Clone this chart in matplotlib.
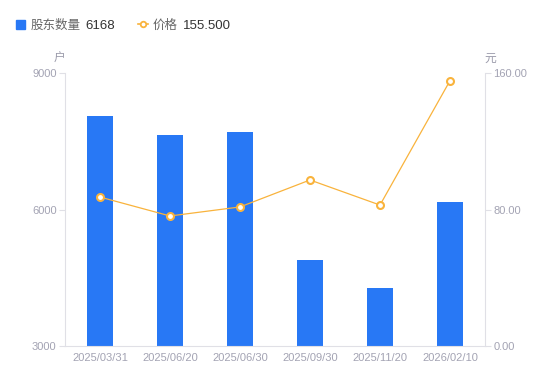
import numpy as np
import matplotlib; matplotlib.use("Agg")
import matplotlib.pyplot as plt
from matplotlib.lines import Line2D
from matplotlib.patches import Rectangle

plt.rcParams["font.family"] = ["Liberation Sans", "Noto Sans CJK SC", "DejaVu Sans"]

dates = ["2025/03/31", "2025/06/20", "2025/06/30", "2025/09/30", "2025/11/20", "2026/02/10"]
holders = [8060, 7640, 7700, 4890, 4280, 6168]
price = [87.3, 76.2, 81.5, 97.3, 82.6, 155.5]

BLUE, ORANGE = "#2878F5", "#F9B33C"
TICK, AXC = "#A3A3B3", "#E0E0E6"

fig = plt.figure(figsize=(5.5, 3.81), dpi=100)
ax = fig.add_axes([65/550, 1 - 346/381, 420/550, 273/381])
ax2 = ax.twinx()

x = np.arange(len(dates))
ax.bar(x, holders, width=0.36, color=BLUE, zorder=2)
ax.set_ylim(3000, 9000)
ax.set_yticks([3000, 6000, 9000])
ax.set_xlim(-0.5, len(dates) - 0.5)
ax.set_xticks(x)
ax.set_xticklabels(dates)

ax2.plot(x, price, color=ORANGE, lw=0.9, marker="o", ms=5, mfc="white", mec=ORANGE, mew=1.5, zorder=3)
ax2.set_ylim(0, 160)
ax2.set_yticks([0, 80, 160])
ax2.set_yticklabels(["0.00", "80.00", "160.00"])

for a in (ax, ax2):
    for s in a.spines.values():
        s.set_visible(False)
    a.tick_params(colors=TICK, labelsize=8, length=4, width=0.8, color=AXC)
ax.spines["left"].set_visible(True); ax.spines["left"].set_color(AXC)
ax.spines["bottom"].set_visible(True); ax.spines["bottom"].set_color(AXC)
ax2.spines["right"].set_visible(True); ax2.spines["right"].set_color(AXC)
ax.tick_params(axis="x", length=0, pad=5)
ax.tick_params(axis="y", pad=2)
ax2.tick_params(axis="y", pad=2)

fig.text(59/550, 1 - 59/381, "户", fontsize=8.5, color="#9A9AAA", ha="center", va="center")
fig.text(490/550, 1 - 59/381, "元", fontsize=8.5, color="#9A9AAA", ha="center", va="center")

# legend drawn by hand
LY = 1 - 26/381
fig.patches.append(Rectangle((16/550, 1 - 29/381), 9/550, 9/381, transform=fig.transFigure,
                             color=BLUE, figure=fig))
fig.text(31/550, LY, "股东数量", fontsize=9, color="#666666", va="center")
fig.text(85/550, LY, "6168", fontsize=9.5, color="#333333", va="center")
fig.lines.append(Line2D([138/550, 148/550], [1 - 24/381, 1 - 24/381], transform=fig.transFigure,
                        color=ORANGE, lw=1.2))
fig.lines.append(Line2D([143/550], [1 - 24/381], transform=fig.transFigure,
                        color=ORANGE, marker="o", ms=4, mfc="white", mec=ORANGE, mew=1.3))
fig.text(153/550, LY, "价格", fontsize=9, color="#666666", va="center")
fig.text(183/550, LY, "155.500", fontsize=9.5, color="#333333", va="center")

fig.savefig("out.png", dpi=100, facecolor="white")
